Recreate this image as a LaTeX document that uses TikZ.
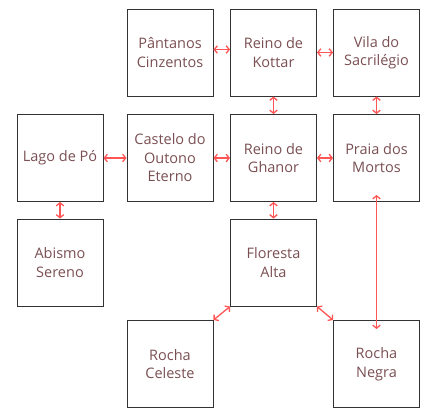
\documentclass[tikz,border=0pt]{standalone}
\usepackage{fontspec}
\setmainfont{Open Sans}
\usetikzlibrary{arrows.meta,calc}
\definecolor{txt}{HTML}{7A4F52}
\definecolor{lnk}{HTML}{FF5555}
\definecolor{edge}{HTML}{333333}
\begin{document}
\begin{tikzpicture}[x=1pt,y=-1pt,
  place/.style={draw=edge,line width=1pt,minimum width=86pt,minimum height=87pt,inner sep=0pt,
    align=center,text=txt,font=\fontsize{14.5}{18.5}\selectfont},
  link/.style={draw=lnk,line width=1.3pt,{Straight Barb[length=3pt,width=7.5pt]}-{Straight Barb[length=3pt,width=7.5pt]}}]
\useasboundingbox (0,0) rectangle (433,418);
\node[place] (pant) at (170,52.5) {Pântanos\\Cinzentos};
\node[place] (kott) at (273.5,52.5) {Reino de\\Kottar};
\node[place] (vila) at (376.5,52.5) {Vila do\\Sacrilégio};
\node[place] (lago) at (60,158) {Lago de Pó};
\node[place] (cast) at (170,158) {Castelo do\\Outono\\Eterno};
\node[place] (ghan) at (273.5,158) {Reino de\\Ghanor};
\node[place] (prai) at (376.5,158) {Praia dos\\Mortos};
\node[place] (abis) at (60,262.5) {Abismo\\Sereno};
\node[place] (flor) at (273.5,262.5) {Floresta\\Alta};
\node[place] (celb) at (170,364) {Rocha\\Celeste};
\node[place] (negr) at (376.5,364) {Rocha\\Negra};
\coordinate (praiIn) at ($(prai.south)+(0,-7)$);
\coordinate (negrIn) at ($(negr.north)+(0,9)$);
\draw[link] ($(pant.east)+(0,-3)$) -- ($(kott.west)+(0,-3)$);
\draw[link] (kott.east) -- (vila.west);
\draw[link] (kott.south) -- (ghan.north);
\draw[link] (vila.south) -- (prai.north);
\draw[link] (lago.east) -- (cast.west);
\draw[link] (cast.east) -- (ghan.west);
\draw[link] (ghan.east) -- (prai.west);
\draw[link] (lago.south) -- (abis.north);
\draw[link] (ghan.south) -- (flor.north);
\draw[link] (praiIn) -- (negrIn);
\draw[link] (flor.south west) -- (celb.north east);
\draw[link] (flor.south east) -- (negr.north west);
\end{tikzpicture}
\end{document}
